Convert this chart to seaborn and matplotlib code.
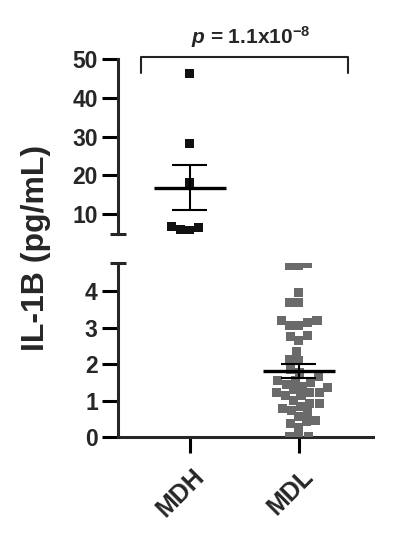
import numpy as np
import pandas as pd
import seaborn as sns
import matplotlib.pyplot as plt
from matplotlib.ticker import FixedLocator
import matplotlib.transforms as mtransforms

# data
groups = ["MDH", "MDL"]
mdh_vals = [46.4, 28.2, 18.1, 6.7, 6.5, 5.9, 5.7]
mdl_vals = [4.70, 4.77, 4.70, 3.96, 3.70, 3.70, 3.07, 3.07, 3.21, 3.21, 3.15,
            2.66, 2.77, 2.78, 2.34, 2.12, 2.10, 1.85, 1.77, 1.65, 1.51, 1.55,
            1.45, 1.55, 1.39, 1.37, 1.23, 1.14, 1.14, 1.23, 1.30, 1.23, 0.91,
            0.84, 1.00, 0.91, 0.73, 0.67, 0.79, 0.56, 0.45, 0.38, 0.42, 0.27,
            0.0, 0.0, 0.0]
top_ticks = [10, 20, 30, 40, 50]
bottom_ticks = [0, 1, 2, 3, 4]
p_text = r"$\mathbf{\mathit{p}}$ = 1.1x10$^{\mathbf{-8}}$"
ylabel = "IL-1B (pg/mL)"

colors = {"MDH": "#111111", "MDL": "#6a6a6a"}

df = pd.DataFrame({
    "group": ["MDH"] * len(mdh_vals) + ["MDL"] * len(mdl_vals),
    "value": mdh_vals + mdl_vals,
})
stats = df.groupby("group")["value"].agg(["mean", "sem"])

sns.set_style("ticks")
plt.rcParams["font.family"] = ["Liberation Sans", "DejaVu Sans"]
plt.rcParams["font.weight"] = "bold"
plt.rcParams["mathtext.fontset"] = "custom"
plt.rcParams["mathtext.rm"] = "Liberation Sans:bold"
plt.rcParams["mathtext.it"] = "Liberation Sans:italic:bold"
plt.rcParams["mathtext.bf"] = "Liberation Sans:bold"

fig = plt.figure(figsize=(4.01, 5.5), dpi=100)
ax_top = fig.add_axes([0.294, 0.5745, 0.636, 0.318])
ax_bot = fig.add_axes([0.294, 0.2055, 0.636, 0.3164])

panels = [(ax_top, (4.8, 50), top_ticks), (ax_bot, (0, 4.78), bottom_ticks)]
for ax, (lo, hi), ticks in panels:
    sub = df[df["value"].between(lo, hi)]
    sns.swarmplot(data=sub, x="group", y="value", hue="group", order=groups,
                  hue_order=groups, palette=colors, marker="s", size=6.5,
                  linewidth=0, legend=False, ax=ax, zorder=3)
    # mean +/- SEM
    for i, g in enumerate(groups):
        m, s = stats.loc[g, "mean"], stats.loc[g, "sem"]
        ax.hlines(m, i - 0.33, i + 0.33, color="black", lw=2.4, zorder=4)
        ax.vlines(i, m - s, m + s, color="black", lw=1.5, zorder=4)
        ax.hlines([m - s, m + s], i - 0.16, i + 0.16, color="black", lw=1.5, zorder=4)
    ax.set_xlim(-0.66, 1.68)
    ax.set_ylim(lo, hi)
    ax.set_yticks(ticks)
    ax.set_xlabel("")
    ax.set_ylabel("")
    for sp in ["top", "right"]:
        ax.spines[sp].set_visible(False)
    for sp in ["left", "bottom"]:
        ax.spines[sp].set_linewidth(2.2)
    ax.tick_params(axis="both", direction="out", length=11.5, width=2.2,
                   labelsize=16.5, pad=3, color="black")

# axis break caps
ax_top.yaxis.set_minor_locator(FixedLocator([4.8]))
ax_bot.yaxis.set_minor_locator(FixedLocator([4.78]))
for ax in (ax_top, ax_bot):
    ax.tick_params(axis="y", which="minor", direction="inout", length=12, width=2.2)

ax_top.spines["bottom"].set_visible(False)
ax_top.tick_params(axis="x", bottom=False, labelbottom=False)

ax_bot.set_xticks(range(len(groups)))
ax_bot.set_xticklabels(groups, fontsize=18)
offset = mtransforms.ScaledTranslation(0.02, -0.07, fig.dpi_scale_trans)
for lab in ax_bot.get_xticklabels():
    lab.set_rotation(45)
    lab.set_ha("right")
    lab.set_rotation_mode("anchor")
    lab.set_transform(lab.get_transform() + offset)

# significance bracket
ax_top.plot([-0.45, -0.45, 1.45, 1.45], [46.4, 50.6, 50.6, 46.4],
            color="#222222", lw=1.5, clip_on=False)
ax_top.text(0.555, 54, p_text, ha="center", va="baseline", fontsize=15,
            fontweight="bold", clip_on=False)

fig.text(0.09, 0.549, ylabel, rotation=90, ha="center", va="center",
         fontsize=23, fontweight="bold")

fig.savefig("out.png", dpi=100)
